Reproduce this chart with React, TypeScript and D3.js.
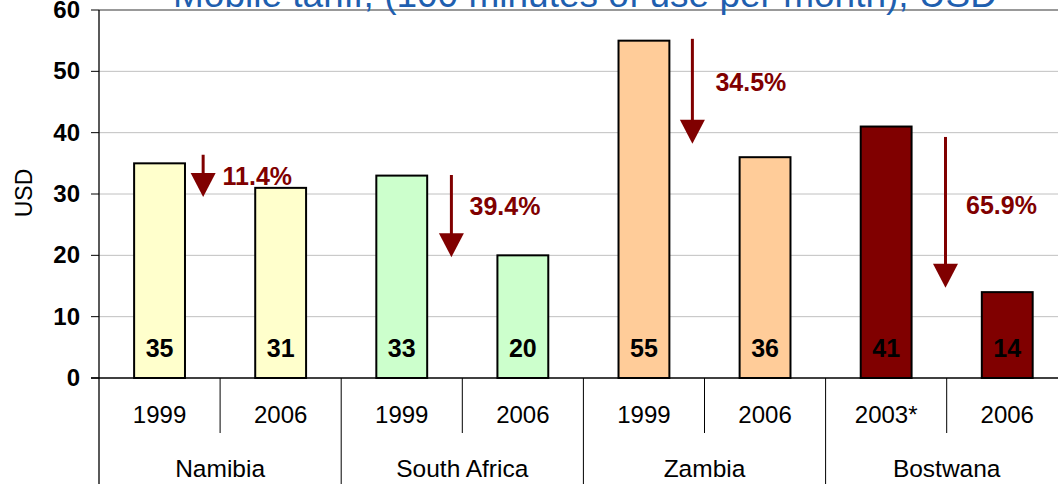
import React, { useEffect, useRef } from "react";
import * as d3 from "d3";

// categories and values
const countries = ["Namibia", "South Africa", "Zambia", "Bostwana"];
const years = ["1999", "2006", "1999", "2006", "1999", "2006", "2003*", "2006"];
const tariffs = [35, 31, 33, 20, 55, 36, 41, 14];
const countryColors = ["#FFFFCC", "#CCFFCC", "#FFCC99", "#800000"];
const yTicks = [0, 10, 20, 30, 40, 50, 60];

// drop annotations (x in slot units, y in USD)
const dropLabels = ["11.4%", "39.4%", "34.5%", "65.9%"];
const arrowX = [0.86, 2.91, 4.9, 6.99];
const arrowTop = [36.4, 33.1, 55.3, 39.3];
const arrowTip = [29.5, 19.7, 38.2, 14.7];
const labelX = [1.02, 3.06, 5.09, 7.16];
const labelY = [31.5, 26.6, 46.8, 26.8];

const W = 1058;
const H = 484;

const App = () => {
    const svgRef = useRef(null);

    useEffect(() => {
        document.body.style.margin = "0";
        const svg = d3.select(svgRef.current);
        svg.selectAll("*").remove();

        const left = 99;
        const slot = 121.1;
        const y = d3.scaleLinear().domain([0, 60]).range([378, 10]);
        const x = d3.scaleBand()
            .domain(years.map((_, i) => String(i)))
            .range([left, left + slot * years.length])
            .padding(0);
        const xs = d3.scaleLinear().domain([0, years.length]).range([left, left + slot * years.length]);
        const bw = x.bandwidth() * 0.42;

        // gridlines
        svg.append("g")
            .selectAll("line")
            .data(yTicks.filter((t) => t > 0))
            .enter()
            .append("line")
            .attr("x1", left)
            .attr("x2", W)
            .attr("y1", (d) => y(d))
            .attr("y2", (d) => y(d))
            .attr("stroke", (d) => (d === 60 ? "#999" : "#c0c0c0"))
            .attr("stroke-width", (d) => (d === 60 ? 2 : 1));

        // title (partly cut off at the top, like the original)
        svg.append("text")
            .attr("x", 585)
            .attr("y", 7)
            .attr("text-anchor", "middle")
            .attr("font-family", "Liberation Sans, Arial, sans-serif")
            .attr("font-size", 36)
            .attr("fill", "#1F5FAF")
            .attr("textLength", 824)
            .attr("lengthAdjust", "spacingAndGlyphs")
            .text("Mobile tariff, (100 minutes of use per month), USD");

        // bars
        svg.append("g")
            .selectAll("rect")
            .data(tariffs)
            .enter()
            .append("rect")
            .attr("x", (d, i) => x(String(i)) + (x.bandwidth() - bw) / 2)
            .attr("y", (d) => y(d))
            .attr("width", bw)
            .attr("height", (d) => y(0) - y(d))
            .attr("fill", (d, i) => countryColors[Math.floor(i / 2)])
            .attr("stroke", "#000")
            .attr("stroke-width", 2);

        // value labels
        svg.append("g")
            .selectAll("text")
            .data(tariffs)
            .enter()
            .append("text")
            .attr("x", (d, i) => x(String(i)) + x.bandwidth() / 2)
            .attr("y", y(0) - 21)
            .attr("text-anchor", "middle")
            .attr("font-family", "Liberation Sans, Arial, sans-serif")
            .attr("font-weight", "bold")
            .attr("font-size", 25)
            .attr("fill", "#000")
            .text((d) => d);

        // y axis
        const yAxis = svg.append("g").attr("font-family", "Liberation Sans, Arial, sans-serif");
        yAxis.append("line")
            .attr("x1", left).attr("x2", left)
            .attr("y1", y(60)).attr("y2", H)
            .attr("stroke", "#000").attr("stroke-width", 1.3);
        yAxis.selectAll("line.tick")
            .data(yTicks)
            .enter()
            .append("line")
            .attr("class", "tick")
            .attr("x1", 91).attr("x2", left)
            .attr("y1", (d) => y(d)).attr("y2", (d) => y(d))
            .attr("stroke", "#000");
        yAxis.selectAll("text.tick")
            .data(yTicks)
            .enter()
            .append("text")
            .attr("class", "tick")
            .attr("x", 80)
            .attr("y", (d) => y(d) + 8)
            .attr("text-anchor", "end")
            .attr("font-weight", "bold")
            .attr("font-size", 24)
            .text((d) => d);
        yAxis.append("text")
            .attr("transform", `translate(32,193) rotate(-90)`)
            .attr("text-anchor", "middle")
            .attr("font-size", 23)
            .text("USD");

        // x axis line
        svg.append("line")
            .attr("x1", 91).attr("x2", W)
            .attr("y1", y(0)).attr("y2", y(0))
            .attr("stroke", "#000").attr("stroke-width", 1.3);

        // x axis separators
        const xAxis = svg.append("g").attr("font-family", "Liberation Sans, Arial, sans-serif");
        xAxis.selectAll("line")
            .data(d3.range(1, years.length + 1))
            .enter()
            .append("line")
            .attr("x1", (d) => xs(d)).attr("x2", (d) => xs(d))
            .attr("y1", y(0))
            .attr("y2", (d) => (d % 2 === 0 ? H : 433))
            .attr("stroke", "#000");
        xAxis.selectAll("text.year")
            .data(years)
            .enter()
            .append("text")
            .attr("class", "year")
            .attr("x", (d, i) => x(String(i)) + x.bandwidth() / 2)
            .attr("y", 423)
            .attr("text-anchor", "middle")
            .attr("font-size", 24)
            .text((d) => d);
        xAxis.selectAll("text.country")
            .data(countries)
            .enter()
            .append("text")
            .attr("class", "country")
            .attr("x", (d, i) => xs(i * 2 + 1))
            .attr("y", 477)
            .attr("text-anchor", "middle")
            .attr("font-size", 24.5)
            .text((d) => d);

        // drop arrows
        const arrows = svg.append("g");
        dropLabels.forEach((label, i) => {
            const ax = xs(arrowX[i]);
            const top = y(arrowTop[i]);
            const tip = y(arrowTip[i]);
            const headH = 24;
            arrows.append("line")
                .attr("x1", ax).attr("x2", ax)
                .attr("y1", top).attr("y2", tip - headH + 2)
                .attr("stroke", "#800000")
                .attr("stroke-width", 3);
            arrows.append("path")
                .attr("d", d3.line()([[ax - 12.5, tip - headH], [ax + 12.5, tip - headH], [ax, tip]]) + "Z")
                .attr("fill", "#800000");
            arrows.append("text")
                .attr("x", xs(labelX[i]))
                .attr("y", y(labelY[i]))
                .attr("font-family", "Liberation Sans, Arial, sans-serif")
                .attr("font-weight", "bold")
                .attr("font-size", 25)
                .attr("fill", "#800000")
                .text(label);
        });
    }, []);

    return (
        <svg
            ref={svgRef}
            width={W}
            height={H}
            style={{ display: "block", background: "#fff", overflow: "hidden" }}
        ></svg>
    );
};

export default App;
